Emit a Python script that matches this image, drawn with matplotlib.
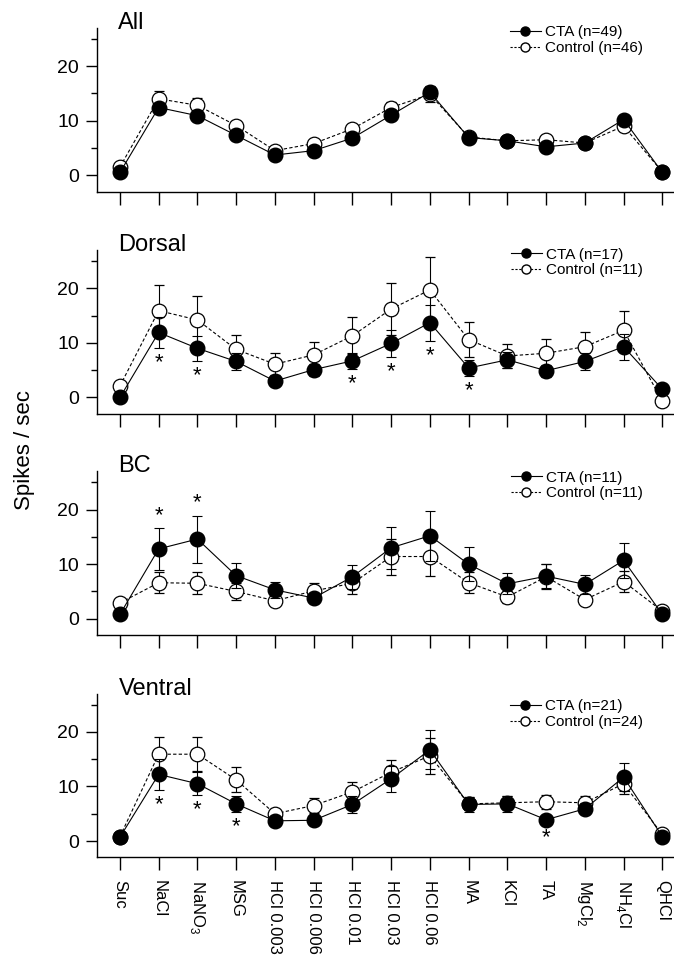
import matplotlib.pyplot as plt
from matplotlib.lines import Line2D
from matplotlib.ticker import MultipleLocator
import numpy as np

plt.rcParams['font.family'] = ['Liberation Sans', 'DejaVu Sans']
plt.rcParams['mathtext.fontset'] = 'custom'
plt.rcParams['mathtext.rm'] = 'Liberation Sans'

stimuli = ['Suc', 'NaCl', r'NaNO$_\mathregular{3}$', 'MSG', 'HCl 0.003', 'HCl 0.006',
           'HCl 0.01', 'HCl 0.03', 'HCl 0.06', 'MA', 'KCl', 'TA',
           r'MgCl$_\mathregular{2}$', r'NH$_\mathregular{4}$Cl', 'QHCl']

# All
all_cta = [0.5, 12.4, 10.9, 7.3, 3.7, 4.5, 6.8, 11.0, 15.2, 6.9, 6.3, 5.2, 5.9, 10.2, 0.5]
all_cta_err = [0.3, 0.9, 0.8, 0.7, 0.5, 0.6, 0.7, 0.9, 1.1, 0.7, 0.6, 0.6, 0.6, 0.8, 0.3]
all_ctrl = [1.5, 14.0, 12.8, 9.1, 4.5, 5.8, 8.5, 12.4, 14.8, 7.0, 6.3, 6.5, 5.9, 9.0, 0.6]
all_ctrl_err = [0.4, 1.5, 1.3, 0.9, 0.6, 0.7, 0.9, 1.1, 1.3, 0.7, 0.6, 0.8, 0.6, 0.9, 0.3]

# Dorsal
dor_cta = [0.0, 11.9, 9.0, 6.6, 3.0, 5.1, 6.7, 9.9, 13.7, 5.4, 6.9, 4.9, 6.6, 9.3, 1.5]
dor_cta_err = [0.4, 2.9, 2.3, 1.5, 0.5, 1.1, 1.5, 2.5, 3.3, 1.4, 1.5, 1.1, 1.5, 2.4, 0.4]
dor_ctrl = [2.1, 15.9, 14.2, 8.8, 6.1, 7.8, 11.3, 16.2, 19.7, 10.6, 7.6, 8.1, 9.3, 12.3, -0.7]
dor_ctrl_err = [0.5, 4.7, 4.3, 2.6, 2.0, 2.3, 3.4, 4.8, 6.0, 3.2, 2.2, 2.6, 2.7, 3.5, 0.5]
dor_sig = [1, 2, 6, 7, 8, 9]

# BC
bc_cta = [0.8, 12.8, 14.6, 7.9, 5.3, 3.8, 7.7, 13.0, 15.2, 10.0, 6.4, 7.8, 6.3, 10.7, 0.8]
bc_cta_err = [0.3, 3.8, 4.3, 2.3, 1.5, 0.9, 2.2, 3.8, 4.6, 3.1, 1.9, 2.2, 1.8, 3.2, 0.3]
bc_ctrl = [2.9, 6.6, 6.5, 5.0, 3.3, 5.1, 6.5, 11.4, 11.4, 6.6, 4.0, 7.7, 3.5, 6.8, 1.4]
bc_ctrl_err = [0.5, 1.9, 2.0, 1.5, 0.7, 1.5, 2.0, 3.3, 3.5, 1.9, 1.1, 2.3, 0.8, 1.9, 0.4]
bc_sig = [1, 2]

# Ventral
ven_cta = [0.7, 12.2, 10.5, 6.8, 3.7, 3.8, 6.7, 11.4, 16.7, 6.7, 6.8, 3.9, 5.9, 11.7, 0.8]
ven_cta_err = [0.3, 2.8, 2.1, 1.5, 0.4, 0.7, 1.5, 2.4, 3.6, 1.4, 1.4, 0.5, 1.0, 2.5, 0.3]
ven_ctrl = [0.8, 15.9, 15.9, 11.2, 5.0, 6.5, 9.0, 12.6, 15.6, 6.8, 7.0, 7.2, 7.0, 10.5, 1.2]
ven_ctrl_err = [0.3, 3.1, 3.1, 2.3, 0.8, 1.3, 1.8, 2.2, 3.3, 1.2, 1.2, 1.3, 1.2, 1.9, 0.5]
ven_sig = [1, 2, 3, 11]

panels = [
    ('All', all_cta, all_cta_err, all_ctrl, all_ctrl_err, 49, 46, [], 'below'),
    ('Dorsal', dor_cta, dor_cta_err, dor_ctrl, dor_ctrl_err, 17, 11, dor_sig, 'below'),
    ('BC', bc_cta, bc_cta_err, bc_ctrl, bc_ctrl_err, 11, 11, bc_sig, 'above'),
    ('Ventral', ven_cta, ven_cta_err, ven_ctrl, ven_ctrl_err, 21, 24, ven_sig, 'below'),
]

fig = plt.figure(figsize=(6.74, 9.58), dpi=100)
bottoms = [0.800, 0.568, 0.337, 0.105]
legend_y = [1.08, 1.08, 1.07, 1.03]
x = np.arange(len(stimuli))

for i, (name, cta, cta_e, ctrl, ctrl_e, n1, n2, sig, side) in enumerate(panels):
    ax = fig.add_axes([0.144, bottoms[i], 0.856, 0.171])
    ax.errorbar(x, ctrl, yerr=ctrl_e, color='black', ls='--', dashes=(3, 2), lw=0.8,
                marker='o', ms=10.5, mfc='white', mec='black', mew=0.9,
                capsize=3.5, elinewidth=0.8, capthick=0.8, zorder=2)
    ax.errorbar(x, cta, yerr=cta_e, color='black', ls='-', lw=0.8,
                marker='o', ms=10.5, mfc='black', mec='black',
                capsize=3.5, elinewidth=0.8, capthick=0.8, zorder=3)
    for j in sig:
        if side == 'below':
            ax.text(x[j], cta[j] - cta_e[j] - 2.7, '*', ha='center', va='center', fontsize=16)
        else:
            ax.text(x[j], cta[j] + cta_e[j] + 2.3, '*', ha='center', va='center', fontsize=16)

    ax.set_xlim(-0.59, 14.3)
    ax.set_ylim(-3, 27)
    ax.set_yticks([0, 10, 20])
    ax.yaxis.set_minor_locator(MultipleLocator(5))
    ax.set_xticks(x)
    ax.spines['top'].set_visible(False)
    ax.spines['right'].set_visible(False)
    ax.spines['left'].set_linewidth(1.0)
    ax.spines['bottom'].set_linewidth(1.0)
    ax.tick_params(axis='y', which='major', direction='out', length=8, width=1, labelsize=14, pad=5)
    ax.tick_params(axis='y', which='minor', direction='out', length=4, width=1)
    ax.tick_params(axis='x', direction='out', length=9, width=1, pad=7)
    if i == 3:
        ax.set_xticklabels(stimuli, rotation=-90, fontsize=12)
    else:
        ax.set_xticklabels([])

    ax.text(0.037, 1.03, name, transform=ax.transAxes, fontsize=17, ha='left', va='center')

    handles = [Line2D([], [], color='black', ls='-', lw=0.8, marker='o', ms=6.5),
               Line2D([], [], color='black', ls='--', dashes=(2, 1.5), lw=0.8, marker='o', ms=6.5,
                      mfc='white')]
    ax.legend(handles, ['CTA (n=%d)' % n1, 'Control (n=%d)' % n2], loc='upper right',
              bbox_to_anchor=(0.965, legend_y[i]), frameon=False, fontsize=11, handlelength=2.0,
              handletextpad=0.3, labelspacing=0.1, borderpad=0.2)

fig.text(0.037, 0.53, 'Spikes / sec', rotation=90, fontsize=16, ha='center', va='center')

fig.savefig('out.png', dpi=100)
